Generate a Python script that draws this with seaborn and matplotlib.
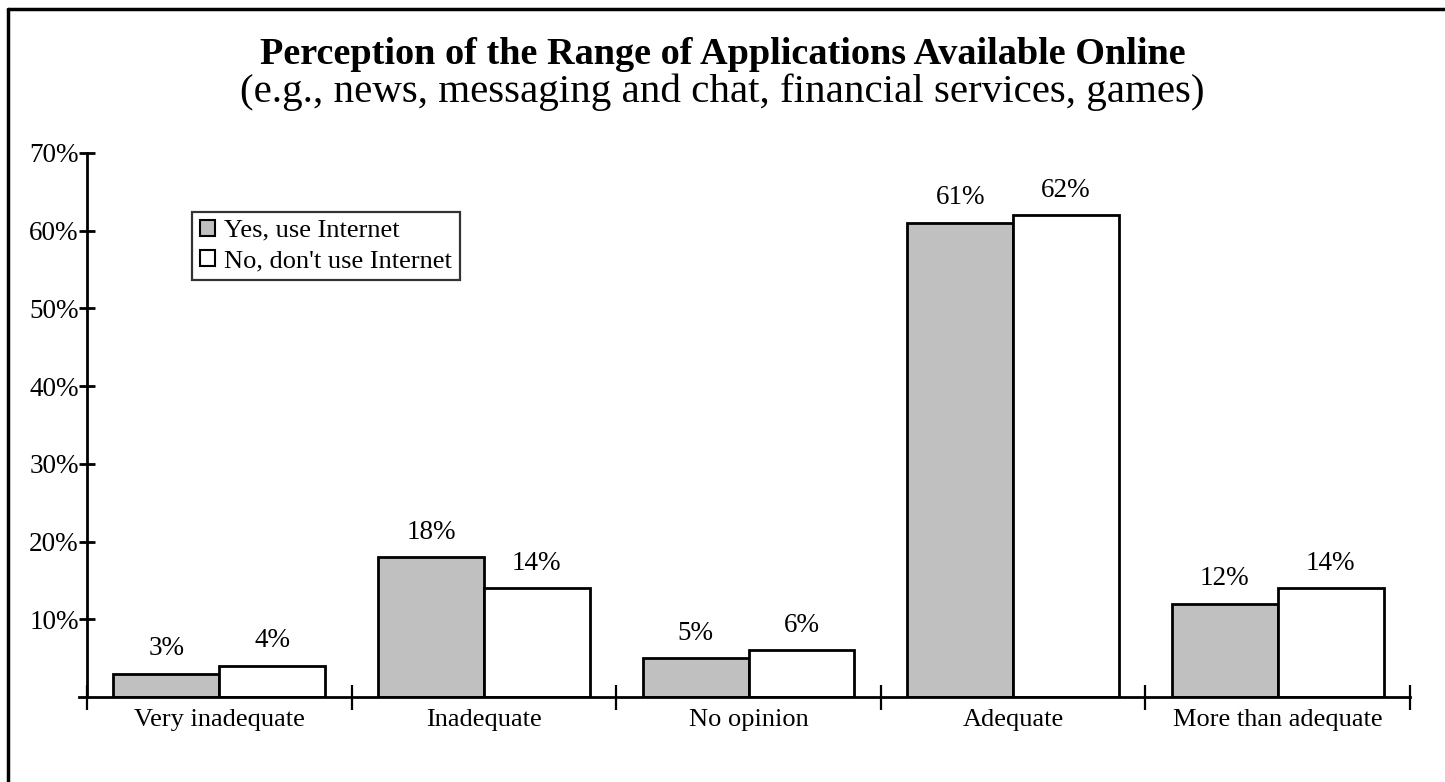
import matplotlib
matplotlib.use("Agg")
import matplotlib.pyplot as plt
from matplotlib.lines import Line2D
import seaborn as sns
import pandas as pd

categories = ["Very inadequate", "Inadequate", "No opinion", "Adequate", "More than adequate"]
series_names = ["Yes, use Internet", "No, don't use Internet"]
yes_values = [3, 18, 5, 61, 12]
no_values = [4, 14, 6, 62, 14]
y_ticks = [10, 20, 30, 40, 50, 60, 70]
y_tick_labels = ["10%", "20%", "30%", "40%", "50%", "60%", "70%"]

df = pd.DataFrame({
    "category": categories * 2,
    "group": [series_names[0]] * len(categories) + [series_names[1]] * len(categories),
    "value": yes_values + no_values,
})

sns.set_theme(style="white")
plt.rcParams["font.family"] = ["Liberation Serif", "DejaVu Serif"]
plt.rcParams["text.color"] = "black"

fig = plt.figure(figsize=(14.45, 7.82), dpi=100)
ax = fig.add_axes([0.0547, 0.1087, 0.9211, 0.6957])

sns.barplot(
    data=df, x="category", y="value", hue="group",
    order=categories, hue_order=series_names,
    palette=["#c0c0c0", "white"], edgecolor="black", linewidth=2,
    width=0.8, saturation=1, ax=ax,
)

for container in ax.containers:
    ax.bar_label(container, fmt="%d%%", padding=9, fontsize=19.5)

ax.set_xlim(-0.53, 4.5)
ax.set_ylim(0, 70)
ax.set_xlabel("")
ax.set_ylabel("")

# axis lines
for side in ("top", "right"):
    ax.spines[side].set_visible(False)
ax.spines["left"].set_position(("data", -0.5))
ax.spines["left"].set_linewidth(2)
ax.spines["bottom"].set_linewidth(2)
ax.spines["left"].set_color("black")
ax.spines["bottom"].set_color("black")

ax.set_yticks(y_ticks)
ax.set_yticklabels(y_tick_labels)
ax.tick_params(axis="y", direction="inout", length=12, width=2, pad=0,
               labelsize=19.5, colors="black", left=True)

ax.set_xticks(range(len(categories)))
ax.set_xticklabels(categories)
ax.set_xticks([i - 0.5 for i in range(len(categories) + 1)], minor=True)
ax.tick_params(axis="x", which="major", length=0, pad=9, labelsize=19, colors="black")
ax.tick_params(axis="x", which="minor", direction="inout", length=18, width=1.6,
               bottom=True, colors="black")

handles, labels = ax.get_legend_handles_labels()
for h in handles:
    h.set_edgecolor("black")
    h.set_linewidth(1.5)
leg = ax.legend(handles, labels, loc="upper left", bbox_to_anchor=(0.085, 0.892),
                borderaxespad=0, fontsize=19, handlelength=0.55, handleheight=0.55,
                handletextpad=0.35, borderpad=0.3, labelspacing=0.3,
                fancybox=False, frameon=True)
leg.get_frame().set_edgecolor("black")
leg.get_frame().set_linewidth(1.6)

fig.text(0.5, 1 - 55 / 782, "Perception of the Range of Applications Available Online",
         ha="center", va="center", fontsize=27.5, fontweight="bold")
fig.text(0.5, 1 - 92 / 782, "(e.g., news, messaging and chat, financial services, games)",
         ha="center", va="center", fontsize=29.5)

# frame lines around the page
fig.add_artist(Line2D([8 / 1445, 8 / 1445], [0, 1 - 9 / 782], color="black", lw=2.5,
                      transform=fig.transFigure))
fig.add_artist(Line2D([8 / 1445, 1], [1 - 9 / 782, 1 - 9 / 782], color="black", lw=2.5,
                      transform=fig.transFigure))

fig.savefig("out.png", dpi=100, facecolor="white")
